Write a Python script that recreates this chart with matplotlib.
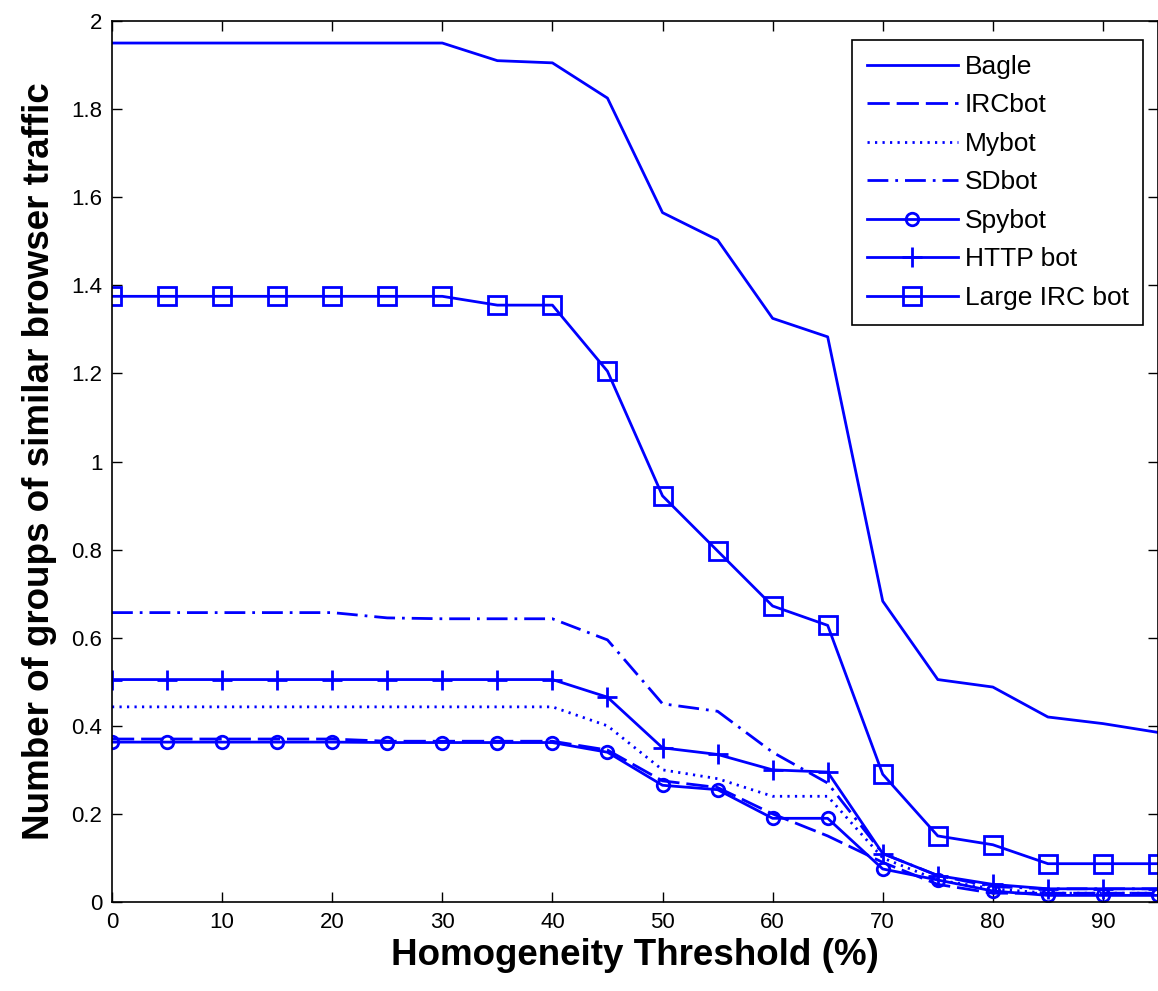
"""Browser traffic grouping vs homogeneity threshold — MATLAB-style line chart."""

import matplotlib
matplotlib.use("Agg")
import matplotlib.pyplot as plt
import numpy as np

plt.rcParams["font.family"] = ["Liberation Sans", "DejaVu Sans"]

thresholds = [0, 5, 10, 15, 20, 25, 30, 35, 40, 45, 50, 55, 60, 65, 70, 75, 80, 85, 90, 95]

bagle = [1.95, 1.95, 1.95, 1.95, 1.95, 1.95, 1.95, 1.91, 1.905, 1.825, 1.565, 1.503,
         1.325, 1.283, 0.683, 0.505, 0.488, 0.42, 0.405, 0.385]
ircbot = [0.37, 0.37, 0.37, 0.37, 0.37, 0.365, 0.365, 0.365, 0.365, 0.345, 0.275, 0.26,
          0.20, 0.15, 0.09, 0.04, 0.02, 0.02, 0.02, 0.02]
mybot = [0.443, 0.443, 0.443, 0.443, 0.443, 0.443, 0.443, 0.443, 0.443, 0.40, 0.30, 0.28,
         0.24, 0.24, 0.10, 0.05, 0.03, 0.02, 0.02, 0.02]
sdbot = [0.657, 0.657, 0.657, 0.657, 0.657, 0.645, 0.643, 0.643, 0.643, 0.595, 0.45, 0.433,
         0.34, 0.27, 0.11, 0.06, 0.035, 0.03, 0.03, 0.03]
spybot = [0.363, 0.363, 0.363, 0.363, 0.363, 0.362, 0.362, 0.362, 0.362, 0.34, 0.265, 0.255,
          0.19, 0.19, 0.075, 0.05, 0.025, 0.015, 0.015, 0.015]
http_bot = [0.505, 0.505, 0.505, 0.505, 0.505, 0.505, 0.505, 0.505, 0.505, 0.465, 0.35, 0.335,
            0.30, 0.295, 0.11, 0.06, 0.04, 0.03, 0.03, 0.03]
large_irc = [1.375, 1.375, 1.375, 1.375, 1.375, 1.375, 1.375, 1.355, 1.355, 1.205, 0.922, 0.797,
             0.672, 0.628, 0.29, 0.15, 0.13, 0.087, 0.087, 0.087]

x_ticks = [0, 10, 20, 30, 40, 50, 60, 70, 80, 90]
y_ticks = [0, 0.2, 0.4, 0.6, 0.8, 1, 1.2, 1.4, 1.6, 1.8, 2]

blue = "#0000ff"
lw = 2.0

fig = plt.figure(figsize=(11.58, 9.91), dpi=100)
ax = fig.add_axes([0.0967, 0.0898, 0.9033, 0.889])

ax.plot(thresholds, bagle, color=blue, lw=lw, label="Bagle")
ax.plot(thresholds, ircbot, color=blue, lw=lw, dashes=(8, 2.5), label="IRCbot")
ax.plot(thresholds, mybot, color=blue, lw=lw, dashes=(0.8, 1.9), label="Mybot")
ax.plot(thresholds, sdbot, color=blue, lw=lw, dashes=(7.5, 2.5, 1, 2.5), label="SDbot")
ax.plot(thresholds, spybot, color=blue, lw=lw, marker="o", ms=9, mfc="none",
        mew=2, label="Spybot")
ax.plot(thresholds, http_bot, color=blue, lw=lw, marker="+", ms=15,
        mew=2, label="HTTP bot")
ax.plot(thresholds, large_irc, color=blue, lw=lw, marker="s", ms=13, mfc="none",
        mew=2, label="Large IRC bot")

ax.set_xlim(0, 95)
ax.set_ylim(0, 2)
ax.set_xticks(x_ticks)
ax.set_xticklabels([f"{t:g}" for t in x_ticks], fontsize=16)
ax.set_yticks(y_ticks)
ax.set_yticklabels([f"{t:g}" for t in y_ticks], fontsize=16)
ax.tick_params(direction="in", length=7, width=1, top=True, right=True, pad=7)
for s in ax.spines.values():
    s.set_linewidth(1.2)

ax.set_xlabel("Homogeneity Threshold (%)", fontsize=26.5, fontweight="bold", labelpad=4)
ax.set_ylabel("Number of groups of similar browser traffic", fontsize=26.5,
              fontweight="bold", labelpad=10)

# legend box sits flush against the anchor, MATLAB style
leg = ax.legend(loc="upper right", bbox_to_anchor=(0.986, 0.978), borderaxespad=0,
                fontsize=19, numpoints=1, handlelength=3.45, handletextpad=0.27,
                labelspacing=0.55, borderpad=0.55, fancybox=False, framealpha=1,
                edgecolor="black")
leg.get_frame().set_linewidth(1.2)

fig.savefig("out.png", dpi=100)
